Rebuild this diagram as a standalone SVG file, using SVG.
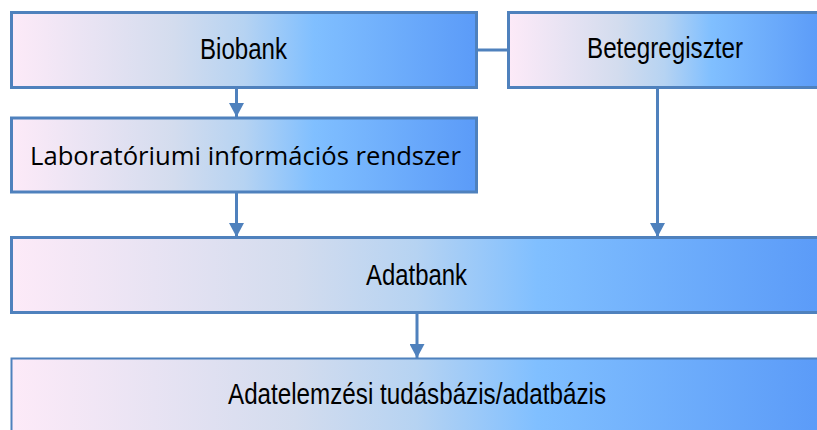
<svg xmlns="http://www.w3.org/2000/svg" width="817" height="430" viewBox="0 0 817 430">
<defs>
<linearGradient id="g" x1="0" y1="0" x2="1" y2="0">
<stop offset="0" stop-color="#fdeaf8"/>
<stop offset="0.35" stop-color="#d3dcee"/>
<stop offset="0.5" stop-color="#b6d3f2"/>
<stop offset="0.65" stop-color="#80bfff"/>
<stop offset="1" stop-color="#5b9bf8"/>
</linearGradient>
<marker id="arr" markerUnits="userSpaceOnUse" markerWidth="15" markerHeight="15" refX="14" refY="7.5" orient="auto">
<path d="M0,0 L14,7.5 L0,15 Z" fill="#4f81bd"/>
</marker>
<style>
.box{fill:url(#g);stroke:#4f81bd;stroke-width:3}
.t{font-family:"Liberation Sans",Arial,sans-serif;font-size:29px;fill:#000}
.t2{font-family:"Open Sans","Noto Sans",sans-serif;font-size:26px;fill:#000}
.c{stroke:#4f81bd;stroke-width:3;fill:none}
</style>
</defs>
<g id="connectors">
<line class="c" x1="477" y1="50" x2="508" y2="50"/>
<line class="c" x1="236.5" y1="72" x2="236.5" y2="117" marker-end="url(#arr)"/>
<line class="c" x1="236.5" y1="193" x2="236.5" y2="237" marker-end="url(#arr)"/>
<line class="c" x1="657.5" y1="88" x2="657.5" y2="237" marker-end="url(#arr)"/>
<line class="c" x1="417" y1="313" x2="417" y2="358" marker-end="url(#arr)"/>
</g>
<g id="biobank">
<rect class="box" x="11.5" y="12.5" width="465" height="75"/>
<text class="t" x="200" y="59" textLength="87" lengthAdjust="spacingAndGlyphs">Biobank</text>
</g>
<g id="betegregiszter">
<rect class="box" x="508.5" y="12.5" width="312" height="75"/>
<text class="t" x="587" y="58" textLength="156" lengthAdjust="spacingAndGlyphs">Betegregiszter</text>
</g>
<g id="lab">
<rect class="box" x="11.5" y="118" width="465" height="74"/>
<text class="t2" x="30" y="165" textLength="431" lengthAdjust="spacingAndGlyphs">Laboratóriumi információs rendszer</text>
</g>
<g id="adatbank">
<rect class="box" x="11.5" y="237.5" width="809" height="75"/>
<text class="t" x="366" y="285" textLength="101" lengthAdjust="spacingAndGlyphs">Adatbank</text>
</g>
<g id="adatelemzesi">
<rect class="box" x="11.5" y="358.5" width="809" height="90" style="stroke-width:2"/>
<text class="t" x="228" y="404" textLength="378" lengthAdjust="spacingAndGlyphs">Adatelemzési tudásbázis/adatbázis</text>
</g>
</svg>
